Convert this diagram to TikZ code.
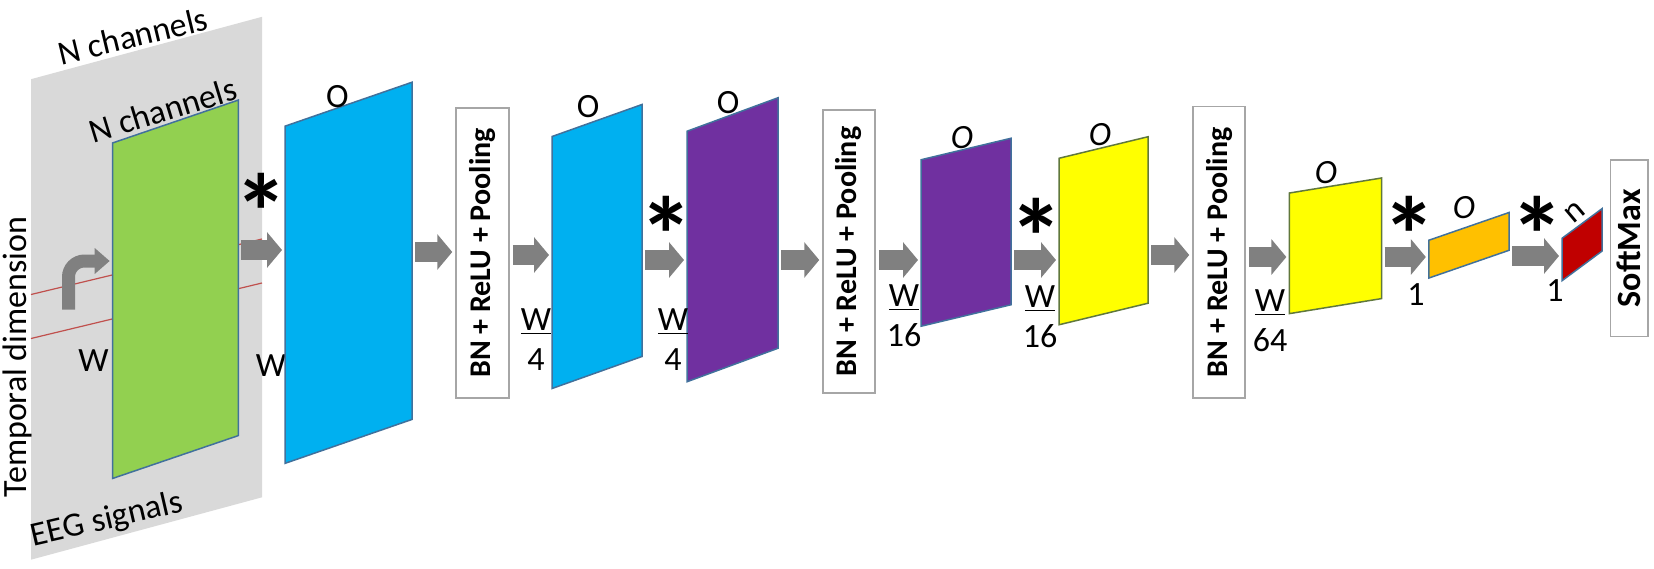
\documentclass[tikz,border=0pt]{standalone}
\usepackage{fontspec}
\setmainfont{Carlito}
\usepackage{graphicx}
\usetikzlibrary{arrows.meta,positioning}

\definecolor{panelgray}{RGB}{217,217,217}
\definecolor{flowgray}{RGB}{128,128,128}
\definecolor{edgeblue}{RGB}{65,113,156}
\definecolor{edgeolive}{RGB}{96,120,60}
\definecolor{boxgray}{RGB}{166,166,166}
\definecolor{tracered}{RGB}{192,80,77}
\definecolor{fgreen}{RGB}{146,208,80}
\definecolor{fblue}{RGB}{0,176,240}
\definecolor{fpurple}{RGB}{112,48,160}
\definecolor{fyellow}{RGB}{255,255,0}
\definecolor{forange}{RGB}{255,192,0}
\definecolor{fred}{RGB}{192,0,0}

\begin{document}
\begin{tikzpicture}[
    x=0.5pt, y=-0.5pt,
    plane/.style={rectangle, draw=edgeblue, line width=0.75pt, inner sep=0pt, outer sep=0pt},
    box/.style={rectangle, draw=boxgray, line width=0.75pt, fill=white, inner sep=0pt, font=\fontsize{15}{18}\selectfont\bfseries},
    lbl/.style={inner sep=0pt, font=\fontsize{17}{20}\selectfont},
    ilbl/.style={lbl, font=\fontsize{17}{20}\selectfont\itshape},
    frac/.style={lbl, align=center},
    star/.style={inner sep=0pt, anchor=base, font=\fontsize{54}{54}\selectfont\bfseries},
    flow/.style={draw=flowgray, line width=10pt, -{Triangle[width=17.5pt, length=7.5pt]}, shorten <=1.5pt, shorten >=1.5pt},
    trace/.style={draw=tracered, line width=0.6pt}
]
\useasboundingbox (0,0) rectangle (1654,568);

% EEG input panel
\node[plane, draw=none, fill=panelgray, minimum width=115.5pt, minimum height=240.25pt, yslant=0.27] (panel) at (146.5,288.25) {};
\draw[trace] (31,294.5) -- (262,239);
\draw[trace] (31,338.5) -- (262,283);
\node[plane, fill=fgreen, minimum width=62.8pt, minimum height=167.75pt, yslant=0.341] (eeg) at (175.5,289.25) {};

\node[lbl, rotate=13.5] (chanout) at (133,36) {N channels};
\node[lbl, rotate=17] (chanin) at (163,110) {N channels};
\node[lbl, rotate=90] (temporal) at (17.5,357) {Temporal dimension};
\node[lbl, rotate=13] (signals) at (107,520) {EEG signals};
\node[lbl] (win) at (93.5,361) {W};
\node[lbl] (wout) at (271,366) {W};

\coordinate (turn) at (68.5,309.5);
\draw[flow, line width=6.5pt, -{Triangle[width=12.5pt, length=7.5pt]}, rounded corners=8pt, shorten <=0pt] (turn) |- (eeg.west |- 0,261);

% Feature maps
\node[plane, fill=fblue, minimum width=63.5pt, minimum height=168.6pt, yslant=0.346] (convA) at (348.5,272.8) {};
\node[plane, fill=fblue, minimum width=45pt, minimum height=126pt, yslant=0.356] (mapA) at (597,246.5) {};
\node[plane, fill=fpurple, minimum width=45.5pt, minimum height=125.25pt, yslant=0.368] (convB) at (732.5,239.75) {};
\node[plane, fill=fpurple, minimum width=45pt, minimum height=83.25pt, yslant=0.239] (mapB) at (966,232.25) {};
\node[plane, fill=fyellow, draw=edgeolive, minimum width=44.5pt, minimum height=83.25pt, yslant=0.242] (convC) at (1103.5,230.75) {};
\node[plane, fill=fyellow, draw=edgeolive, minimum width=46.15pt, minimum height=60.3pt, yslant=0.163] (mapC) at (1335.5,245.8) {};
\node[plane, fill=forange, minimum width=40.15pt, minimum height=18.9pt, yslant=0.346] (convD) at (1469,245.25) {};
\node[plane, fill=fred, minimum width=20pt, minimum height=21.2pt, yslant=0.741] (convE) at (1582,244.7) {};

% BN + ReLU + Pooling blocks
\node[box, minimum width=26.5pt, minimum height=145pt] (poolA) at (482.5,253) {\rotatebox{90}{BN + ReLU + Pooling}};
\node[box, minimum width=26pt, minimum height=141.5pt] (poolB) at (849,251.5) {\rotatebox{90}{BN + ReLU + Pooling}};
\node[box, minimum width=26pt, minimum height=145.6pt] (poolC) at (1219,252.3) {\rotatebox{90}{BN + ReLU + Pooling}};
\node[box, minimum width=18.75pt, minimum height=88.3pt, font=\fontsize{17}{20}\selectfont\bfseries] (softmax) at (1629,248.3) {\rotatebox{90}{SoftMax}};

% Data flow arrows
\draw[flow] (eeg.east |- 0,250) -- (convA.west |- 0,250);
\draw[flow] (convA.east |- 0,252) -- (poolA.west |- 0,252);
\draw[flow] (poolA.east |- 0,255) -- (mapA.west |- 0,255);
\draw[flow] (mapA.east |- 0,260) -- (convB.west |- 0,260);
\draw[flow] (convB.east |- 0,260) -- (poolB.west |- 0,260);
\draw[flow] (poolB.east |- 0,260) -- (mapB.west |- 0,260);
\draw[flow] (mapB.east |- 0,260) -- (convC.west |- 0,260);
\draw[flow] (convC.east |- 0,255) -- (poolC.west |- 0,255);
\draw[flow] (poolC.east |- 0,257) -- (mapC.west |- 0,257);
\draw[flow] (mapC.east |- 0,257) -- (convD.west |- 0,257);
\draw[flow] (convD.east |- 0,256) -- (convE.west |- 0,256);

% Convolution marks
\node[star] (starA) at (261,250) {*};
\node[star] (starB) at (666,273) {*};
\node[star] (starC) at (1036,275) {*};
\node[star] (starD) at (1409,273) {*};
\node[star] (starE) at (1537,273) {*};

% Sizes
\node[lbl] (oA) at (337.5,97) {O};
\node[lbl] (oB) at (588,107) {O};
\node[lbl] (oC) at (728,103) {O};
\node[ilbl] (oD) at (962,138) {O};
\node[ilbl] (oE) at (1100,135) {O};
\node[ilbl] (oF) at (1326,173) {O};
\node[ilbl] (oG) at (1464,208) {O};
\node[lbl, rotate=40] (nout) at (1575,212) {n};

\node[frac] (wA) at (536,340) {\underline{W}\\4};
\node[frac] (wB) at (673,340) {\underline{W}\\4};
\node[frac] (wC) at (904,316) {\underline{W}\\16};
\node[frac] (wD) at (1040,317) {\underline{W}\\16};
\node[frac] (wE) at (1270,321) {\underline{W}\\64};
\node[lbl] (oneA) at (1416,295) {1};
\node[lbl] (oneB) at (1555,291) {1};

\end{tikzpicture}
\end{document}
